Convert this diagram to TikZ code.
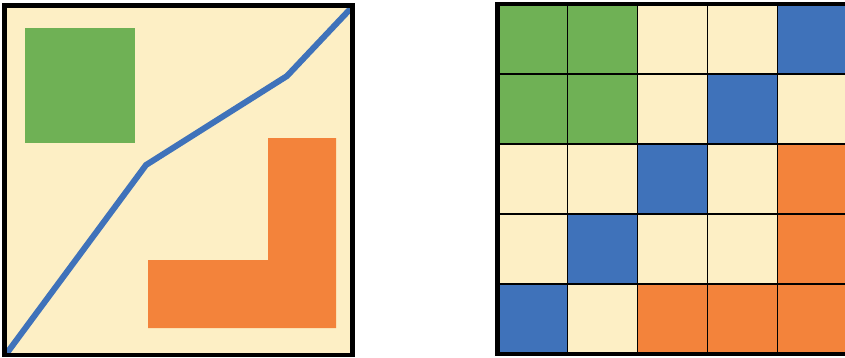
\documentclass[tikz,border=0pt]{standalone}
\definecolor{cream}{HTML}{FDEFC5}
\definecolor{gr}{HTML}{6FB155}
\definecolor{bl}{HTML}{3F72BA}
\definecolor{orng}{HTML}{F3833B}
\tikzset{
  frame/.style={draw=black,line width=4.5pt},
  gridline/.style={draw=black,line width=1.2pt},
  route/.style={draw=bl,line width=6pt,line join=miter},
}
\begin{document}
\begin{tikzpicture}[x=1pt,y=-1pt]
\useasboundingbox (0,0) rectangle (845,357);
\clip (0,0) rectangle (845,357);
% left panel
\fill[cream] (4.5,5.5) rectangle (352.5,355);
\fill[gr] (25,28) rectangle (135,143);
\fill[orng] (148,328) -- (336,328) -- (336,138) -- (268,138) -- (268,260) -- (148,260) -- cycle;
\begin{scope}
\clip (4.5,5.5) rectangle (352.5,355);
\draw[route] (4,357) -- (146,165) -- (287,76) -- (354,5);
\end{scope}
\draw[frame] (4.5,5.5) rectangle (352.5,355);
% right grid
\def\cellcolors{{"gr","gr","cream","cream","bl"},{"gr","gr","cream","bl","cream"},{"cream","cream","bl","cream","orng"},{"cream","bl","cream","cream","orng"},{"bl","cream","orng","orng","orng"}}
\foreach \r/\row in {0/{gr,gr,cream,cream,bl},1/{gr,gr,cream,bl,cream},2/{cream,cream,bl,cream,orng},3/{cream,bl,cream,cream,orng},4/{bl,cream,orng,orng,orng}}{
  \foreach \c [count=\k from 0] in \row {
    \fill[\c] ({497.5+70*\k},{4+70*\r}) rectangle ++(70,70);
  }
}
\foreach \k in {1,2,3,4}{
  \draw[gridline] ({497.5+70*\k},4) -- ({497.5+70*\k},354);
  \draw[gridline] (497.5,{4+70*\k}) -- (847.5,{4+70*\k});
}
\draw[frame] (497.5,4) rectangle (847.5,354);
\end{tikzpicture}
\end{document}
